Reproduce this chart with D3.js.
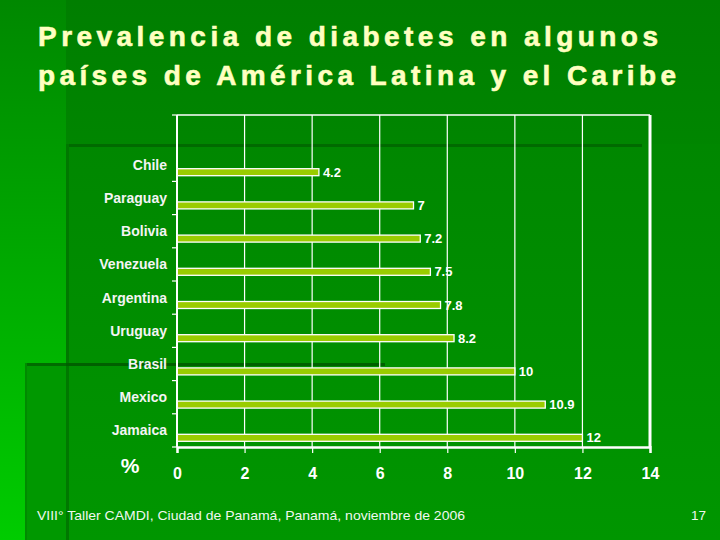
<!DOCTYPE html>
<html><head><meta charset="utf-8">
<script src="https://cdn.jsdelivr.net/npm/d3@7"></script>
<style>html,body{margin:0;padding:0;background:#008800;}svg{display:block;}</style>
</head><body>
<svg id="c" width="720" height="540"></svg>
<script>
const titleLines = ["Prevalencia de diabetes en algunos", "países de América Latina y el Caribe"];
const categories = ["Chile","Paraguay","Bolivia","Venezuela","Argentina","Uruguay","Brasil","Mexico","Jamaica"];
const values = [4.2, 7, 7.2, 7.5, 7.8, 8.2, 10, 10.9, 12];
const valueLabels = ["4.2","7","7.2","7.5","7.8","8.2","10","10.9","12"];
const xTicks = [0,2,4,6,8,10,12,14];
const unitLabel = "%";
const footer = "VIII° Taller CAMDI, Ciudad de Panamá, Panamá, noviembre de 2006";
const pageNum = "17";

(function(){
const svg = d3.select("#c");
const defs = svg.append("defs");
const g1 = defs.append("linearGradient").attr("id","bg").attr("x1",0).attr("y1",0).attr("x2",0).attr("y2",1);
g1.append("stop").attr("offset","0").attr("stop-color","#007e00");
g1.append("stop").attr("offset","1").attr("stop-color","#009a00");
const g2 = defs.append("linearGradient").attr("id","strip").attr("x1",0).attr("y1",0).attr("x2",0).attr("y2",1);
g2.append("stop").attr("offset","0").attr("stop-color","#008800");
g2.append("stop").attr("offset","0.35").attr("stop-color","#00a000");
g2.append("stop").attr("offset","1").attr("stop-color","#00cc00");
const g3 = defs.append("linearGradient").attr("id","panel").attr("x1",0).attr("y1",0).attr("x2",0).attr("y2",1);
g3.append("stop").attr("offset","0").attr("stop-color","#008700");
g3.append("stop").attr("offset","1").attr("stop-color","#009600");

// background decoration
svg.append("rect").attr("width",720).attr("height",540).attr("fill","url(#bg)");
svg.append("rect").attr("x",0).attr("y",0).attr("width",66).attr("height",540).attr("fill","url(#strip)");
svg.append("rect").attr("x",25).attr("y",363).attr("width",360).attr("height",177).attr("fill","#009800");
svg.append("rect").attr("x",25).attr("y",363).attr("width",360).attr("height",3).attr("fill","#006c00");
svg.append("rect").attr("x",25).attr("y",363).attr("width",2).attr("height",177).attr("fill","#008a00");
svg.append("rect").attr("x",66).attr("y",144).attr("width",654).attr("height",396).attr("fill","url(#panel)");
svg.append("rect").attr("x",66).attr("y",144).attr("width",576).attr("height",3).attr("fill","#006a00");
svg.append("rect").attr("x",66).attr("y",144).attr("width",3).attr("height",396).attr("fill","#007800");
svg.append("rect").attr("x",66).attr("y",363).attr("width",319).attr("height",3).attr("fill","#006000");

const font = "Arial, 'Liberation Sans', sans-serif";
// title
svg.selectAll("text.title").data(titleLines).join("text").attr("class","title")
  .attr("x",38).attr("y",(d,i)=>46+i*39)
  .attr("fill","#ffffc0").attr("stroke","#ffffc0").attr("stroke-width",0.6)
  .attr("font-family",font)
  .attr("font-weight","bold").attr("font-size",28)
  .attr("textLength",(d,i)=> i===0 ? 620 : 638).attr("lengthAdjust","spacing")
  .text(d=>d);

// chart
const pL=177, pR=650, pT=115, pB=447;
const x = d3.scaleLinear().domain([0,14]).range([pL,pR]);
const bandH = (pB-pT)/(categories.length+1);
const y = d3.scaleBand().domain(categories).range([pT+bandH,pB]).padding(0);

// grid
svg.append("g").selectAll("line").data(xTicks.filter(t=>t>0 && t<14)).join("line")
  .attr("x1",d=>x(d)).attr("x2",d=>x(d)).attr("y1",pT).attr("y2",pB)
  .attr("stroke","#ffffff").attr("stroke-width",1.2);
svg.append("line").attr("x1",pL).attr("x2",x(14)).attr("y1",pT).attr("y2",pT).attr("stroke","#fff").attr("stroke-width",1.5);
svg.append("line").attr("x1",x(14)).attr("x2",x(14)).attr("y1",pT).attr("y2",pB).attr("stroke","#fff").attr("stroke-width",3);

// bars
svg.append("g").selectAll("rect").data(categories).join("rect")
  .attr("x",x(0)).attr("y",d=>y(d)+20.5).attr("height",7)
  .attr("width",(d,i)=>x(values[i])-x(0))
  .attr("fill","#99cc00").attr("stroke","#ffffff").attr("stroke-width",1.3);

// value labels
svg.append("g").selectAll("text").data(categories).join("text")
  .attr("x",(d,i)=>x(values[i])+4).attr("y",d=>y(d)+24).attr("dy","0.35em")
  .attr("fill","#ffffff").attr("font-family",font).attr("font-weight","bold").attr("font-size",13)
  .text((d,i)=>valueLabels[i]);

// category labels
svg.append("g").selectAll("text").data(categories).join("text")
  .attr("x",167).attr("y",d=>y(d)+21.5)
  .attr("text-anchor","end")
  .attr("fill","#f4f4f4").attr("font-family",font).attr("font-weight","bold").attr("font-size",14)
  .text(d=>d);

// left axis ticks
const yTickPos = [pT].concat(categories.map(c=>y(c)+y.bandwidth()));
svg.append("g").selectAll("line").data(yTickPos).join("line")
  .attr("x1",172).attr("x2",pL).attr("y1",d=>d).attr("y2",d=>d)
  .attr("stroke","#fff").attr("stroke-width",1.2);
svg.append("line").attr("x1",pL).attr("x2",pL).attr("y1",pT).attr("y2",pB).attr("stroke","#fff").attr("stroke-width",2);

// bottom axis
const xAxis = svg.append("g").attr("transform",`translate(0,${pB})`)
  .call(d3.axisBottom(x).tickValues(xTicks).tickSize(6).tickPadding(15).tickFormat(d3.format("d")));
xAxis.select(".domain").attr("stroke","#fff").attr("stroke-width",2.5);
xAxis.selectAll(".tick line").attr("stroke","#fff").attr("stroke-width",1.2);
xAxis.selectAll(".tick text").attr("fill","#fff").attr("font-family",font).attr("font-weight","bold").attr("font-size",16);

svg.append("text").attr("x",130).attr("y",473).attr("text-anchor","middle")
  .attr("fill","#fff").attr("font-family",font).attr("font-weight","bold").attr("font-size",21).text(unitLabel);

// footer
svg.append("text").attr("x",37).attr("y",520).attr("fill","#f0f8f0").attr("font-family",font)
  .attr("font-size",13.5).attr("textLength",428).attr("lengthAdjust","spacingAndGlyphs").text(footer);
svg.append("text").attr("x",706).attr("y",520).attr("text-anchor","end").attr("fill","#f0f8f0").attr("font-family",font)
  .attr("font-size",13.5).text(pageNum);
})();
</script>
</body></html>
